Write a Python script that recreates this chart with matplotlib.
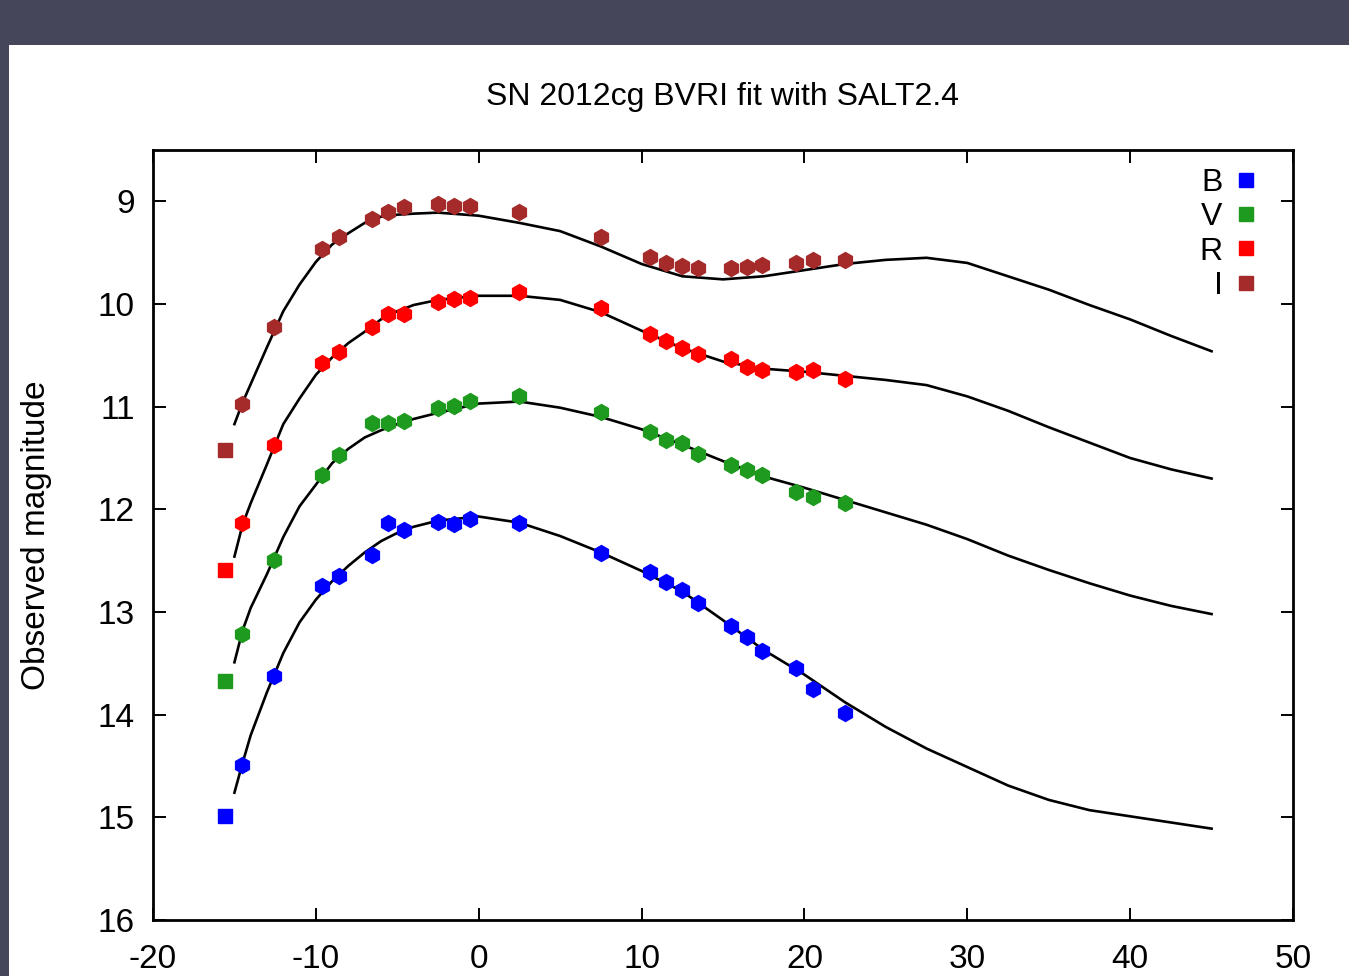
import matplotlib
matplotlib.use("Agg")
import matplotlib.pyplot as plt
from matplotlib.patches import Rectangle
from matplotlib.lines import Line2D

plt.rcParams['font.family'] = ['Liberation Sans', 'DejaVu Sans']
plt.rcParams['axes.unicode_minus'] = False

# observed points (phase in days, magnitude)
phase = [-15.6, -14.55, -12.6, -9.6, -8.6, -6.57, -5.6, -4.6, -2.5, -1.5, -0.55,
         2.46, 7.5, 10.5, 11.5, 12.5, 13.45, 15.5, 16.45, 17.4, 19.5, 20.5, 22.5]

mag_B = [14.99, 14.49, 13.62, 12.75, 12.65, 12.44, 12.13, 12.20, 12.12, 12.14, 12.09,
         12.13, 12.43, 12.61, 12.71, 12.79, 12.91, 13.14, 13.24, 13.38, 13.55, 13.75, 13.98]
mag_V = [13.67, 13.21, 12.49, 11.67, 11.47, 11.16, 11.16, 11.14, 11.01, 10.99, 10.94,
         10.90, 11.05, 11.25, 11.32, 11.35, 11.46, 11.57, 11.62, 11.67, 11.83, 11.88, 11.94]
mag_R = [12.59, 12.13, 11.37, 10.57, 10.47, 10.22, 10.10, 10.10, 9.98, 9.95, 9.94,
         9.88, 10.04, 10.29, 10.36, 10.43, 10.49, 10.54, 10.61, 10.64, 10.66, 10.64, 10.73]
mag_I = [11.42, 10.97, 10.22, 9.46, 9.35, 9.17, 9.10, 9.06, 9.03, 9.05, 9.05,
         9.10, 9.35, 9.54, 9.60, 9.63, 9.65, 9.65, 9.64, 9.62, 9.60, 9.57, 9.57]

# SALT2.4 model curves
model_phase = [-15, -14.5, -14, -13, -12, -11, -10, -9, -8, -7, -6, -5, -4, -2.5, 0,
               2.5, 5, 7.5, 10, 12.5, 15, 17.5, 20, 22.5, 25, 27.5, 30, 32.5, 35,
               37.5, 40, 42.5, 45]
model_B = [14.76, 14.47, 14.20, 13.78, 13.40, 13.10, 12.88, 12.70, 12.55, 12.42, 12.31,
           12.23, 12.17, 12.11, 12.07, 12.13, 12.26, 12.42, 12.60, 12.80, 13.08, 13.37,
           13.61, 13.88, 14.12, 14.33, 14.51, 14.69, 14.83, 14.93, 14.99, 15.05, 15.11]
model_V = [13.49, 13.18, 12.96, 12.63, 12.27, 11.97, 11.76, 11.55, 11.41, 11.30, 11.23,
           11.17, 11.12, 11.06, 10.97, 10.95, 11.01, 11.10, 11.22, 11.37, 11.53, 11.68,
           11.79, 11.91, 12.03, 12.15, 12.29, 12.45, 12.59, 12.72, 12.84, 12.94, 13.02]
model_R = [12.46, 12.15, 11.94, 11.56, 11.17, 10.92, 10.69, 10.52, 10.38, 10.27, 10.15,
           10.07, 10.01, 9.96, 9.92, 9.92, 9.96, 10.08, 10.26, 10.43, 10.56, 10.63,
           10.66, 10.70, 10.74, 10.79, 10.90, 11.04, 11.20, 11.35, 11.50, 11.61, 11.70]
model_I = [11.17, 10.96, 10.78, 10.42, 10.07, 9.81, 9.59, 9.42, 9.31, 9.21, 9.15,
           9.13, 9.12, 9.11, 9.14, 9.21, 9.29, 9.44, 9.61, 9.73, 9.76, 9.73, 9.67,
           9.61, 9.57, 9.55, 9.60, 9.73, 9.86, 10.01, 10.15, 10.31, 10.46]

bands = ["B", "V", "R", "I"]
colors = {"B": "#0000ff", "V": "#1e9a1e", "R": "#ff0000", "I": "#a52a2a"}
data = {"B": mag_B, "V": mag_V, "R": mag_R, "I": mag_I}
models = {"B": model_B, "V": model_V, "R": model_R, "I": model_I}

fig = plt.figure(figsize=(13.49, 9.76), dpi=100)
fig.patch.set_facecolor("#454659")
fig.add_artist(Rectangle((9 / 1349, 0), 1, 1 - 45 / 976, transform=fig.transFigure,
                         facecolor="white", edgecolor="none", zorder=-10))

ax = fig.add_axes([153 / 1349, 1 - 920 / 976, 1140 / 1349, 770 / 976])
ax.patch.set_alpha(0)

for b in bands:
    ax.plot(model_phase, models[b], color="black", lw=1.9, zorder=2,
            solid_joinstyle="round")
    ax.plot(phase[0], data[b][0], ls="none", marker="s", ms=10, color=colors[b], zorder=3)
    ax.plot(phase[1:], data[b][1:], ls="none", marker="h", ms=11.5, color=colors[b], zorder=3)

ax.set_xlim(-20, 50)
ax.set_ylim(16, 8.5)
ax.set_yticks(range(9, 17))
ax.set_xticks(range(-20, 51, 10))
ax.tick_params(direction="in", length=9, width=1.4, labelsize=24, pad=13,
               top=True, right=True)
ax.tick_params(axis="x", pad=17)
for s in ax.spines.values():
    s.set_linewidth(2)

handles = [Line2D([], [], ls="none", marker="s", ms=10, color=colors[b]) for b in bands]
ax.legend(handles, bands, loc="upper right", markerfirst=False, frameon=False,
          fontsize=23, labelspacing=0.14, handlelength=0.7, handletextpad=0.4,
          borderpad=0, borderaxespad=0, bbox_to_anchor=(0.969, 0.977))

fig.text(723 / 1349, 1 - 97 / 976, "SN 2012cg BVRI fit with SALT2.4",
         ha="center", va="center", fontsize=23)
fig.text(37 / 1349, 1 - 535 / 976, "Observed magnitude", rotation=90,
         ha="center", va="center", fontsize=24)

fig.savefig("out.png", dpi=100, facecolor=fig.get_facecolor())
